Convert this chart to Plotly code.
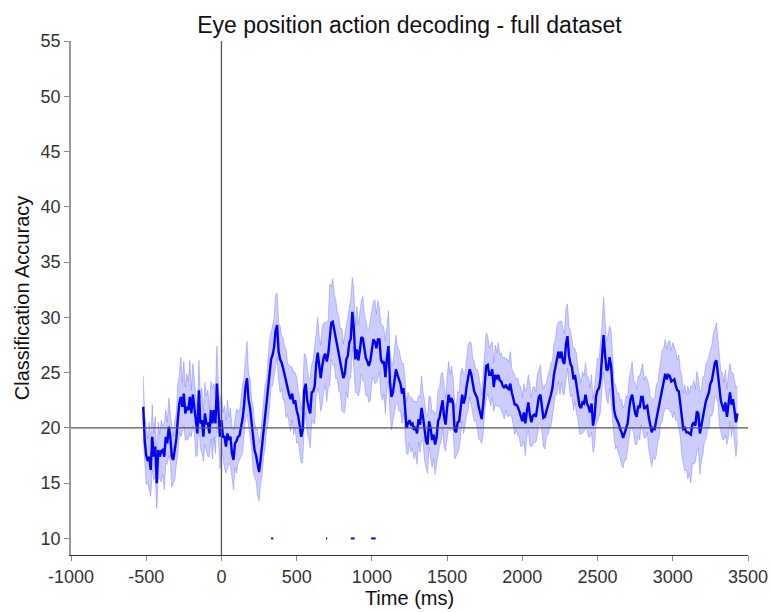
import numpy as np
import plotly.graph_objects as go

# Time grid (ms): 10 ms steps starting at -520
t_start = -520
t_step = 10

# Mean classification accuracy (%)
mean_acc = [
    21.9, 18.9, 17.5, 17.0, 17.4, 16.2, 19.2, 17.4, 18.3, 15.0,
    18.0, 17.4, 17.9, 18.0, 17.4, 19.2, 18.6, 20.1, 19.2, 17.4,
    17.1, 18.0, 19.0, 20.8, 22.2, 22.8, 21.9, 23.1, 21.3, 21.9,
    21.6, 22.8, 21.3, 23.0, 22.0, 20.5, 19.5, 23.4, 20.4, 20.7,
    19.2, 21.3, 20.4, 20.4, 19.5, 21.6, 20.4, 21.6, 20.4, 24.0,
    21.3, 19.2, 20.7, 19.2, 19.2, 18.3, 19.5, 18.9, 19.2, 17.7,
    17.1, 18.6, 18.8, 19.2, 19.3, 20.0, 20.8, 22.0, 23.7, 24.5,
    22.6, 21.8, 20.5, 19.1, 18.0, 17.5, 16.9, 16.0, 17.1, 18.3,
    19.9, 21.0, 22.1, 23.2, 24.9, 26.2, 26.6, 27.3, 28.8, 29.3,
    26.9, 26.2, 25.9, 25.4, 24.8, 24.0, 23.5, 23.0, 22.6, 23.1,
    22.2, 22.5, 21.6, 21.1, 20.2, 19.2, 19.8, 23.4, 24.0, 22.5,
    21.8, 21.3, 23.2, 23.3, 23.8, 25.8, 26.8, 25.6, 24.5, 25.6,
    26.4, 26.7, 26.0, 26.7, 28.4, 29.5, 29.6, 28.9, 28.0, 27.5,
    26.7, 26.1, 25.3, 24.5, 24.9, 26.2, 26.5, 27.7, 28.1, 30.5,
    29.0, 26.2, 27.1, 26.1, 27.0, 28.2, 28.1, 27.2, 26.3, 26.0,
    25.6, 26.1, 27.2, 28.0, 27.8, 27.2, 28.0, 28.0, 26.2, 25.9,
    26.0, 24.6, 26.3, 27.4, 24.2, 22.8, 23.2, 24.4, 25.3, 24.8,
    24.3, 24.0, 23.1, 23.6, 21.9, 20.0, 20.4, 20.7, 20.3, 20.4,
    19.8, 20.1, 19.5, 20.8, 20.3, 21.8, 21.0, 19.8, 18.8, 18.5,
    20.6, 20.0, 18.9, 19.4, 18.5, 19.1, 20.6, 21.0, 21.8, 22.5,
    21.0, 20.3, 21.8, 23.0, 22.3, 22.7, 22.2, 19.8, 19.6, 20.5,
    20.6, 22.1, 23.0, 22.2, 22.7, 23.8, 24.6, 25.3, 24.9, 23.9,
    23.3, 23.0, 22.7, 21.9, 21.3, 20.8, 22.2, 24.0, 25.6, 25.7,
    24.8, 24.8, 25.3, 23.7, 24.8, 24.4, 24.8, 24.3, 24.2, 23.8,
    23.6, 23.9, 23.6, 23.5, 24.0, 23.2, 22.6, 22.1, 22.1, 21.9,
    21.5, 21.0, 20.6, 21.4, 20.4, 21.5, 22.3, 21.2, 20.5, 21.1,
    21.2, 21.0, 22.1, 22.8, 23.0, 22.0, 20.9, 21.0, 21.6, 22.1,
    22.5, 23.0, 23.6, 24.8, 25.5, 26.1, 26.9, 26.3, 26.9, 26.0,
    25.8, 27.6, 28.3, 26.5, 25.8, 25.5, 24.4, 24.8, 24.0, 23.1,
    22.0, 21.8, 22.3, 22.2, 23.0, 22.2, 21.9, 21.4, 22.2, 20.2,
    21.0, 22.9, 23.4, 23.6, 24.5, 26.5, 28.4, 26.6, 25.2, 25.3,
    26.4, 25.6, 23.2, 21.6, 21.0, 20.7, 20.4, 19.9, 19.6, 19.1,
    19.6, 20.0, 20.4, 21.7, 22.6, 23.0, 21.9, 21.3, 21.0, 22.0,
    21.8, 22.8, 22.8, 21.7, 21.9, 22.0, 21.0, 20.1, 19.6, 20.0,
    19.9, 20.7, 21.4, 22.1, 23.0, 23.8, 24.3, 24.9, 24.4, 24.8,
    24.7, 24.2, 24.3, 24.4, 23.8, 23.4, 23.3, 22.2, 21.1, 19.9,
    20.0, 19.6, 19.6, 19.5, 19.4, 20.3, 20.5, 20.2, 21.5, 21.3,
    19.5, 20.2, 21.1, 21.7, 22.4, 22.9, 23.2, 24.0, 24.3, 25.1,
    25.9, 26.1, 25.0, 23.4, 22.4, 22.0, 21.5, 22.3, 21.0, 22.1,
    23.2, 22.1, 22.6, 21.6, 20.5, 21.3,
]

# Half-width of the shaded error band
sem_acc = [
    2.8, 2.2, 2.6, 2.0, 3.1, 2.4, 2.9, 2.1, 2.7, 2.3,
    2.5, 2.0, 2.8, 2.2, 3.0, 2.4, 1.9, 2.6, 2.2, 2.8,
    2.1, 2.7, 2.3, 3.2, 2.5, 3.6, 2.2, 2.9, 2.4, 3.0,
    2.6, 3.3, 2.1, 2.8, 2.4, 3.1, 2.0, 2.7, 2.3, 2.9,
    2.2, 2.8, 2.5, 3.0, 2.1, 2.6, 3.2, 2.4, 2.7, 3.4,
    2.3, 2.9, 2.5, 2.2, 2.8, 2.4, 3.0, 2.1, 2.6, 2.3,
    2.7, 2.2, 2.9, 2.4, 2.1, 2.6, 3.1, 2.5, 2.8, 3.3,
    2.4, 2.7, 2.2, 2.9, 2.5, 2.3, 3.0, 2.6, 2.2, 2.7,
    2.5, 2.9, 2.3, 2.7, 3.1, 2.4, 2.8, 2.6, 3.2, 2.9,
    2.6, 3.0, 2.4, 2.8, 2.5, 3.1, 2.3, 2.7, 2.9, 2.4,
    2.8, 2.5, 3.0, 2.3, 2.7, 2.4, 2.9, 3.3, 2.6, 3.0,
    2.7, 3.1, 2.5, 2.9, 3.4, 2.8, 3.2, 2.6, 3.0, 3.5,
    3.1, 2.8, 3.6, 3.0, 4.6, 3.3, 3.9, 3.2, 3.6, 3.0,
    3.4, 2.9, 3.7, 3.1, 3.5, 3.0, 3.8, 3.3, 3.6, 3.1,
    3.5, 3.0, 3.9, 3.2, 3.6, 3.3, 3.8, 3.1, 3.4, 3.0,
    3.3, 3.6, 3.0, 3.4, 3.8, 3.1, 3.5, 2.9, 3.2, 3.4,
    3.0, 3.3, 2.8, 3.2, 2.7, 3.0, 2.6, 2.9, 3.1, 2.5,
    2.8, 2.4, 2.7, 2.2, 2.6, 2.3, 2.8, 2.1, 2.5, 2.2,
    2.6, 2.3, 2.8, 2.1, 2.5, 2.9, 2.2, 2.7, 2.4, 2.6,
    2.3, 2.8, 2.5, 2.2, 2.7, 2.4, 2.9, 2.6, 3.1, 2.5,
    2.8, 2.4, 2.7, 3.0, 2.5, 2.9, 2.3, 2.6, 2.2, 2.8,
    2.5, 2.9, 2.4, 2.7, 2.3, 2.6, 3.0, 2.5, 2.8, 2.4,
    2.7, 2.3, 2.6, 2.9, 2.4, 2.2, 2.7, 2.5, 3.0, 2.6,
    2.4, 2.8, 2.5, 2.2, 2.7, 2.4, 2.9, 2.3, 2.6, 2.5,
    2.8, 2.3, 2.6, 2.4, 2.9, 2.2, 2.5, 2.7, 2.3, 2.6,
    2.4, 2.7, 2.2, 2.6, 2.9, 2.3, 2.5, 2.8, 2.2, 2.6,
    2.5, 2.3, 2.8, 2.4, 2.7, 2.2, 2.6, 2.9, 2.4, 2.7,
    2.6, 2.9, 2.4, 2.8, 2.5, 3.1, 2.7, 3.3, 2.8, 3.0,
    2.7, 3.2, 2.9, 2.6, 3.0, 2.5, 2.8, 2.4, 2.7, 2.3,
    2.6, 2.3, 2.8, 2.5, 2.9, 2.4, 2.7, 2.2, 2.6, 2.4,
    2.7, 2.5, 2.9, 2.6, 3.0, 2.8, 3.4, 2.9, 2.6, 3.1,
    2.8, 3.2, 2.7, 2.5, 2.9, 2.4, 2.8, 2.6, 3.0, 2.7,
    2.5, 2.9, 2.3, 2.7, 2.6, 3.0, 2.4, 2.8, 2.5, 2.7,
    2.9, 2.5, 3.0, 2.6, 2.8, 2.4, 2.9, 2.7, 3.1, 2.6,
    2.8, 3.2, 2.7, 3.0, 2.6, 3.3, 2.9, 3.1, 2.7, 3.0,
    3.2, 2.8, 3.4, 2.9, 3.1, 2.7, 3.3, 3.0, 3.6, 3.2,
    3.9, 3.4, 4.2, 3.6, 4.4, 3.5, 3.8, 3.3, 3.6, 3.1,
    3.7, 3.2, 3.5, 3.0, 3.4, 3.1, 3.3, 2.9, 3.2, 3.5,
    3.0, 3.4, 2.8, 3.1, 2.7, 3.0, 2.6, 2.9, 2.5, 2.8,
    2.6, 2.9, 2.4, 2.7, 3.1, 2.5,
]

# Significant time windows (ms) marked at accuracy level 10
sig_start = [330, 695, 860, 995]
sig_end = [345, 703, 885, 1025]
sig_level = 10

chance_level = 20
x_ticks = [-1000, -500, 0, 500, 1000, 1500, 2000, 2500, 3000, 3500]
y_ticks = [10, 15, 20, 25, 30, 35, 40, 45, 50, 55]

n = min(len(mean_acc), len(sem_acc))
mean = np.array(mean_acc[:n])
sem = np.array(sem_acc[:n])
time = t_start + t_step * np.arange(n)
upper = mean + sem
lower = mean - sem

fig = go.Figure()
fig.add_trace(go.Scatter(x=time, y=lower, mode="lines",
                         line=dict(color="rgba(120,120,255,0.55)", width=0.8),
                         hoverinfo="skip", showlegend=False))
fig.add_trace(go.Scatter(x=time, y=upper, mode="lines", fill="tonexty",
                         fillcolor="rgba(0,0,255,0.2)",
                         line=dict(color="rgba(120,120,255,0.55)", width=0.8),
                         hoverinfo="skip", showlegend=False))
fig.add_trace(go.Scatter(x=time, y=mean, mode="lines",
                         line=dict(color="#0000ff", width=2.4),
                         showlegend=False))

sx, sy = [], []
for s, e in zip(sig_start, sig_end):
    sx += [s, e, None]
    sy += [sig_level, sig_level, None]
fig.add_trace(go.Scatter(x=sx, y=sy, mode="lines",
                         line=dict(color="#0000ff", width=2),
                         showlegend=False))

fig.add_shape(type="line", xref="x", yref="y", x0=0, x1=0, y0=8.5, y1=55,
              line=dict(color="#555555", width=1.3), layer="above")
fig.add_shape(type="line", xref="x", yref="y", x0=-1000, x1=3500,
              y0=chance_level, y1=chance_level,
              line=dict(color="#555555", width=1.3), layer="above")

font_family = "Liberation Sans, Arial, Helvetica, sans-serif"
fig.update_layout(
    width=771, height=612,
    margin=dict(l=71, r=23, t=41, b=57),
    paper_bgcolor="white", plot_bgcolor="white",
    font=dict(family=font_family, color="#222222"),
    title=dict(text="Eye position action decoding - full dataset",
               x=0.5, xref="paper", y=1 - 25 / 612, yref="container",
               xanchor="center", yanchor="middle",
               font=dict(size=23, color="#111111", family=font_family)),
    showlegend=False,
)
fig.update_xaxes(range=[-1000, 3500], tickvals=x_ticks,
                 ticktext=[str(v) for v in x_ticks], automargin=False,
                 showgrid=False, zeroline=False, showline=True,
                 linecolor="#333333", linewidth=1.2,
                 ticks="outside", ticklen=5, tickcolor="#888888",
                 tickfont=dict(size=18, color="#333333"),
                 title=dict(text="Time (ms)", font=dict(size=20, color="#111111"),
                            standoff=2))
fig.update_yaxes(range=[8.5, 55], tickvals=y_ticks,
                 ticktext=[str(v) for v in y_ticks], automargin=False,
                 showgrid=False, zeroline=False, showline=True,
                 linecolor="#999999", linewidth=1.5,
                 ticks="outside", ticklen=5, tickcolor="#888888",
                 tickfont=dict(size=18, color="#333333"),
                 title=dict(text="Classification Accuracy",
                            font=dict(size=20, color="#111111"), standoff=6))

fig.write_html("out.html")
